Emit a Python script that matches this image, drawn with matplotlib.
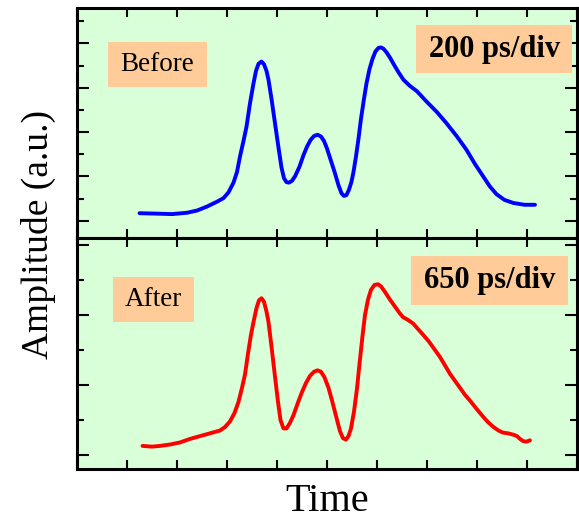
import matplotlib
matplotlib.use('Agg')
import matplotlib.pyplot as plt
from matplotlib.patches import Rectangle
from matplotlib.ticker import MultipleLocator

plt.rcParams['font.family'] = ['Liberation Serif', 'DejaVu Serif']

# Before (blue), time in divisions, amplitude in arbitrary units
before_t = [1.25, 1.6, 1.9, 2.2, 2.4, 2.6, 2.8, 2.93, 3.03, 3.13, 3.2, 3.26, 3.33,
            3.39, 3.46, 3.53, 3.58, 3.63, 3.69, 3.74, 3.79, 3.83, 3.89, 3.96, 4.03,
            4.09, 4.14, 4.19, 4.24, 4.30, 4.36, 4.45, 4.53, 4.60, 4.67, 4.74, 4.81,
            4.88, 4.94, 5.00, 5.08, 5.16, 5.23, 5.29, 5.34, 5.39, 5.44, 5.49, 5.53,
            5.58, 5.63, 5.68, 5.74, 5.79, 5.85, 5.91, 5.97, 6.03, 6.08, 6.13, 6.19,
            6.26, 6.34, 6.43, 6.53, 6.65, 6.8, 6.99, 7.2, 7.39, 7.6, 7.79, 7.96,
            8.13, 8.26, 8.39, 8.55, 8.73, 8.95, 9.16]
before_y = [0.17, 0.16, 0.15, 0.18, 0.23, 0.32, 0.43, 0.51, 0.64, 0.86, 1.1, 1.45, 1.8,
            2.12, 2.65, 3.10, 3.38, 3.54, 3.59, 3.53, 3.38, 3.18, 2.75, 2.20, 1.65,
            1.20, 0.96, 0.87, 0.86, 0.90, 1.00, 1.22, 1.48, 1.67, 1.82, 1.91, 1.94,
            1.90, 1.80, 1.63, 1.35, 1.07, 0.80, 0.62, 0.56, 0.58, 0.70, 0.88, 1.10,
            1.45, 1.85, 2.30, 2.75, 3.10, 3.42, 3.65, 3.82, 3.90, 3.91, 3.88, 3.80,
            3.68, 3.52, 3.35, 3.18, 3.05, 2.92, 2.69, 2.45, 2.20, 1.90, 1.60, 1.28,
            0.99, 0.77, 0.60, 0.47, 0.40, 0.36, 0.36]

# After (red)
after_t = [1.31, 1.5, 1.66, 1.86, 2.06, 2.26, 2.46, 2.66, 2.86, 2.96, 3.06, 3.15,
           3.23, 3.30, 3.36, 3.42, 3.48, 3.53, 3.59, 3.64, 3.69, 3.74, 3.79, 3.83,
           3.89, 3.96, 4.02, 4.07, 4.13, 4.19, 4.26, 4.33, 4.42, 4.50, 4.58, 4.66,
           4.74, 4.81, 4.88, 4.95, 5.03, 5.10, 5.19, 5.26, 5.32, 5.38, 5.43, 5.48,
           5.54, 5.60, 5.65, 5.71, 5.76, 5.82, 5.88, 5.95, 6.02, 6.08, 6.16, 6.26,
           6.36, 6.45, 6.52, 6.62, 6.72, 6.82, 6.92, 7.04, 7.16, 7.26, 7.36, 7.46,
           7.56, 7.66, 7.76, 7.88, 7.99, 8.12, 8.22, 8.33, 8.43, 8.52, 8.62, 8.73,
           8.80, 8.86, 8.92, 8.98, 9.06]
after_y = [0.13, 0.12, 0.13, 0.15, 0.18, 0.23, 0.27, 0.31, 0.35, 0.40, 0.48, 0.60,
           0.76, 0.96, 1.15, 1.45, 1.72, 1.90, 2.10, 2.21, 2.24, 2.19, 2.05, 1.90,
           1.55, 1.12, 0.76, 0.50, 0.38, 0.38, 0.46, 0.57, 0.75, 0.90, 1.03, 1.13,
           1.19, 1.21, 1.19, 1.11, 0.96, 0.78, 0.53, 0.34, 0.24, 0.22, 0.27, 0.38,
           0.62, 0.95, 1.30, 1.70, 2.00, 2.22, 2.36, 2.43, 2.44, 2.41, 2.33, 2.22,
           2.12, 2.03, 1.97, 1.93, 1.88, 1.80, 1.72, 1.62, 1.50, 1.40, 1.28, 1.16,
           1.06, 0.96, 0.86, 0.76, 0.66, 0.55, 0.47, 0.40, 0.35, 0.32, 0.31, 0.29,
           0.27, 0.23, 0.20, 0.19, 0.21]

bg = '#d9ffd9'
box = '#ffcc99'

fig = plt.figure(figsize=(5.79, 5.22), dpi=100)
ax1 = fig.add_axes([0.133, 0.544, 0.8635, 0.4416])
ax2 = fig.add_axes([0.133, 0.1015, 0.8635, 0.4425])

panels = [
    (ax1, before_t, before_y, 'blue', (-0.39, 4.81), 'Before', (0.062, 0.655, 0.198, 0.195),
     '200 ps/div', (0.679, 0.716, 0.312, 0.208)),
    (ax2, after_t, after_y, 'red', (-0.2, 3.1), 'After', (0.071, 0.636, 0.164, 0.195),
     '650 ps/div', (0.669, 0.71, 0.313, 0.212)),
]

for ax, t, y, col, ylim, lab, lab_box, scale, scale_box in panels:
    ax.set_facecolor(bg)
    ax.plot(t, y, color=col, lw=2.8, solid_joinstyle='round', solid_capstyle='round', zorder=3)
    ax.set_xlim(0, 10)
    ax.set_ylim(*ylim)
    ax.xaxis.set_major_locator(MultipleLocator(1))
    ax.yaxis.set_major_locator(MultipleLocator(1))
    ax.yaxis.set_minor_locator(MultipleLocator(0.5))
    ax.tick_params(axis='x', which='major', direction='in', top=True, bottom=True,
                   length=6.5, width=1.5, labelbottom=False)
    ax.tick_params(axis='y', which='major', direction='in', left=True, right=True,
                   length=8.6, width=1.5, labelleft=False)
    ax.tick_params(axis='y', which='minor', direction='in', left=True, right=True,
                   length=5, width=1.5)
    for s in ax.spines.values():
        s.set_linewidth(2.2)

    x0, y0, w, h = lab_box
    ax.add_patch(Rectangle((x0, y0), w, h, transform=ax.transAxes, facecolor=box,
                           edgecolor='none', zorder=2))
    ax.text(x0 + w / 2, y0 + h / 2, lab, transform=ax.transAxes, ha='center',
            va='center', fontsize=19.5, zorder=4)
    x0, y0, w, h = scale_box
    ax.add_patch(Rectangle((x0, y0), w, h, transform=ax.transAxes, facecolor=box,
                           edgecolor='none', zorder=2))
    ax.text(x0 + w / 2, y0 + h / 2, scale, transform=ax.transAxes, ha='center',
            va='center', fontsize=22, fontweight='bold', zorder=4)

fig.text(0.565, 0.04, 'Time', ha='center', va='center', fontsize=29)
fig.text(0.066, 0.55, 'Amplitude (a.u.)', ha='center', va='center', fontsize=27,
         rotation=90)

fig.savefig('out.png', dpi=100)
